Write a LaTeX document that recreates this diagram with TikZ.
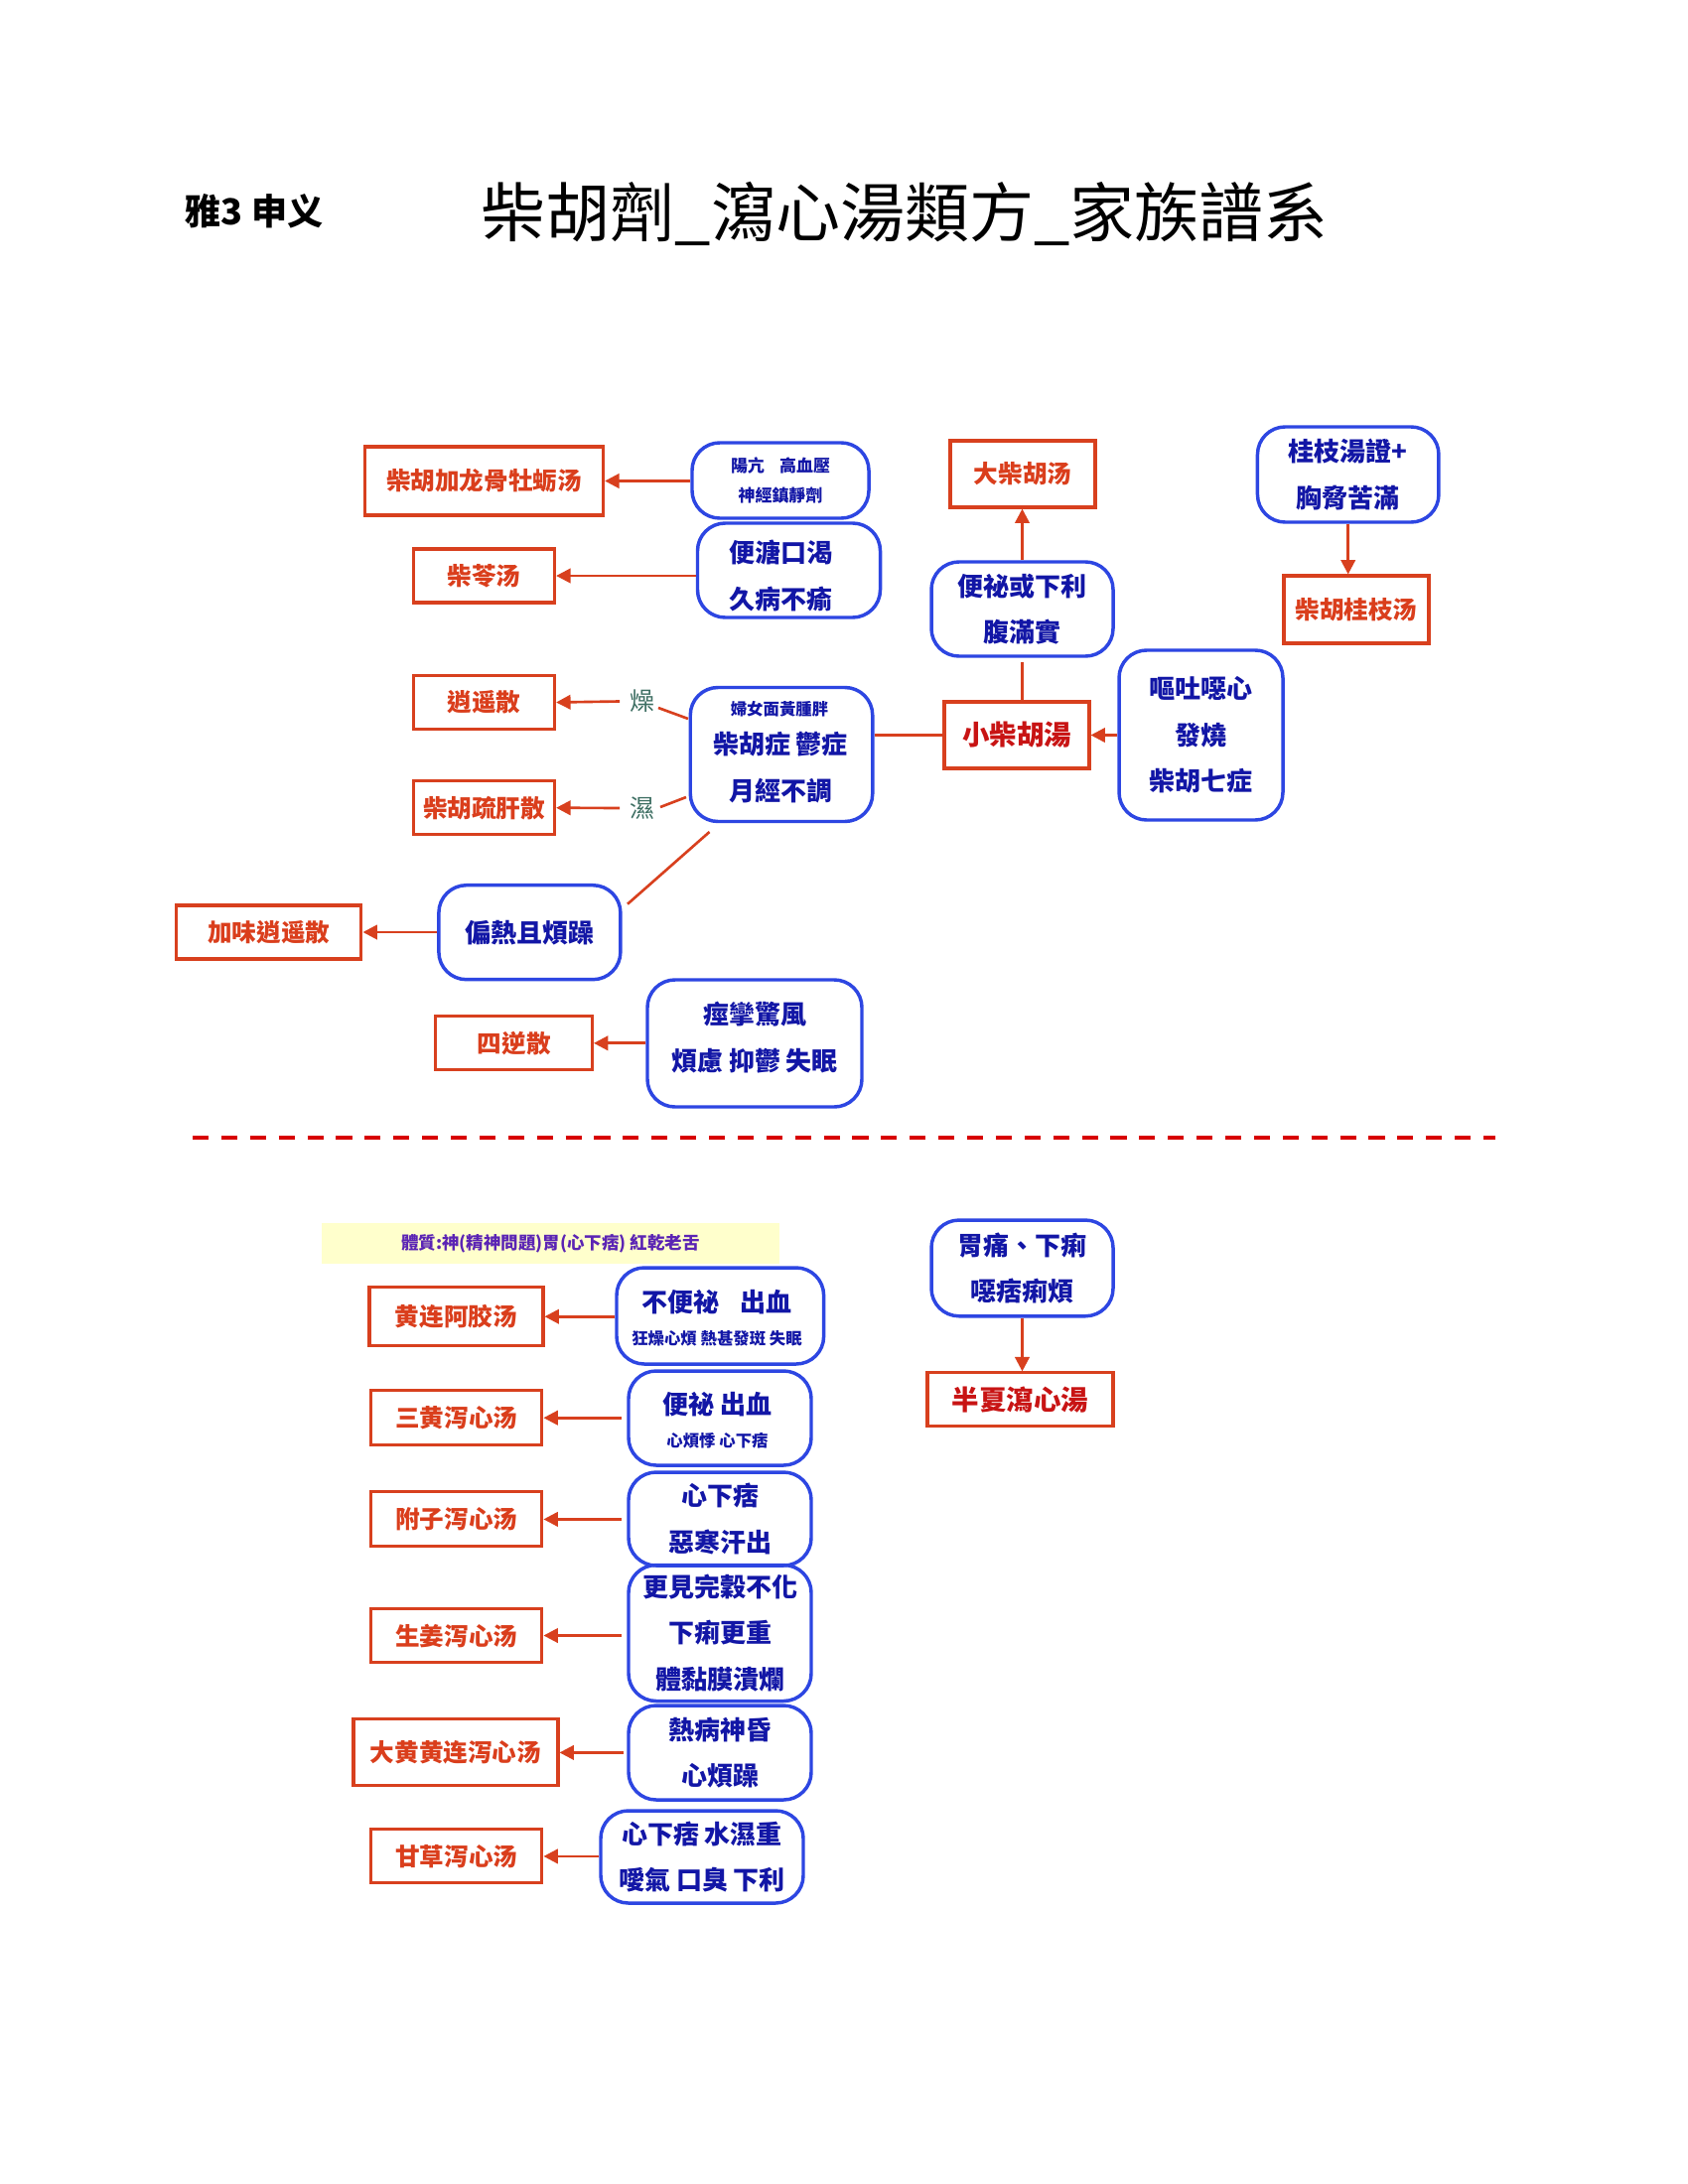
\documentclass[tikz,border=0pt]{standalone}
\usepackage{fontspec}
\setmainfont{Noto Sans CJK TC}
\usetikzlibrary{arrows.meta}
\definecolor{rline}{HTML}{D8401E}
\definecolor{rtext}{HTML}{DA3E1C}
\definecolor{rdark}{HTML}{C81414}
\definecolor{bline}{HTML}{2D46E2}
\definecolor{btext}{HTML}{1216A6}
\definecolor{tealtext}{HTML}{3E6F63}
\definecolor{dashred}{HTML}{D80000}
\definecolor{ybg}{HTML}{FFFFCC}
\definecolor{ptext}{HTML}{5B24B4}
\begin{document}
\begin{tikzpicture}[x=0.36pt,y=-0.36pt,
  redbox/.style 2 args={draw=rline, line width=1.1pt, text=rtext, inner sep=0pt,
     font=\bfseries\fontsize{8.86}{10}\selectfont, minimum width=#1*0.36pt, minimum height=#2*0.36pt},
  bluebox/.style 2 args={draw=bline, line width=1.25pt, rounded corners=10pt, text=btext, inner sep=0pt, align=center,
     font=\bfseries\fontsize{9.36}{16.8}\selectfont, minimum width=#1*0.36pt, minimum height=#2*0.36pt},
  smalltext/.style={text=btext, inner sep=0pt, font=\bfseries\fontsize{5.9}{10.5}\selectfont},
  bigtext/.style={text=btext, inner sep=0pt, align=center, font=\bfseries\fontsize{9.36}{16.8}\selectfont},
  arr/.style={draw=rline, line width=0.95pt, -{Triangle[length=5.2pt,width=5.2pt]}},
  plainline/.style={draw=rline, line width=0.95pt},
  tag/.style={text=tealtext, font=\fontsize{9}{10}\selectfont},
  ]
\fill[white] (0,0) rectangle (1700,2200);
\useasboundingbox (0,0) rectangle (1700,2200);

% titles
\node[font=\bfseries\fontsize{13}{15}\selectfont] (author) at (256,213) {雅3 申义};
\node[font=\fontsize{23.4}{26}\selectfont] (title) at (911,215) {柴胡劑\_瀉心湯類方\_家族譜系};

% ---------- upper part: red boxes ----------
\node[redbox={240}{69}] (r1) at (487.6,484.5) {柴胡加龙骨牡蛎汤};
\node[redbox={142}{54}] (r2) at (487.6,580) {柴苓汤};
\node[redbox={142}{54}] (r3) at (487.6,707.5) {逍遥散};
\node[redbox={142}{54}] (r4) at (487.6,813.7) {柴胡疏肝散};
\node[redbox={186.5}{54}] (r5) at (270.7,939) {加味逍遥散};
\node[redbox={157.5}{54}] (r6) at (517.7,1050.8) {四逆散};
\node[redbox={146}{67}] (r7) at (1030,477.5) {大柴胡汤};
\node[redbox={146}{68}] (r8) at (1366,614) {柴胡桂枝汤};
\node[redbox={146}{67}, text=rdark, font=\bfseries\fontsize{9.9}{11}\selectfont] (r9) at (1024,740.5) {小柴胡湯};

% ---------- upper part: blue boxes ----------
\node[bluebox={178}{76}, font=\bfseries\fontsize{6.1}{10.5}\selectfont] (b1) at (786,484) {陽亢\hspace{0.9em}高血壓\\神經鎮靜劑};
\node[bluebox={184}{95}] (b2) at (794.5,574.5) {};
\node[bigtext] (b2t) at (786,580) {便溏口渴\\久病不瘉};
\node[bluebox={183.5}{135}] (b3) at (787,760) {};
\node[smalltext] (b3a) at (785,714) {婦女面黃腫胖};
\node[bigtext] (b3b) at (786,750) {柴胡症 鬱症};
\node[bigtext] (b3c) at (786,797) {月經不調};
\node[bluebox={183}{95}] (b4) at (533.4,939.2) {偏熱且煩躁};
\node[bluebox={216}{128}] (b5) at (760,1051) {};
\node[bigtext] (b5t) at (760,1045) {痙攣驚風\\煩慮 抑鬱 失眠};
\node[bluebox={183}{95}] (b6) at (1029.5,613.5) {便祕或下利\\腹滿實};
\node[bluebox={182.5}{96}] (b7) at (1357.7,478) {桂枝湯證+\\胸脅苦滿};
\node[bluebox={165}{171}] (b8) at (1209.5,740.5) {嘔吐噁心\\發燒\\柴胡七症};

\node[tag] (dry) at (646.5,706.5) {燥};
\node[tag] (wet) at (646.5,814) {濕};
\coordinate (dryA) at (663,713);
\coordinate (dryB) at (693,724);
\coordinate (wetA) at (665,813);
\coordinate (wetB) at (691,803);
\coordinate (dgA) at (714.5,838);
\coordinate (dgB) at (632,910.7);

% upper connectors
\draw[arr] (b1.west |- r1.east) -- (r1.east);
\draw[arr] (b2.west |- r2.east) -- (r2.east);
\draw[arr] (dry.west) -- (r3.east);
\draw[arr] (wet.west) -- (r4.east);
\draw[plainline] (dryA) -- (dryB);
\draw[plainline] (wetA) -- (wetB);
\draw[plainline] (dgA) -- (dgB);
\draw[arr] (b4.west |- r5.east) -- (r5.east);
\draw[arr] (b5.west |- r6.east) -- (r6.east);
\draw[arr] (b6.north) -- (b6.north |- r7.south);
\draw[arr] (b7.south) -- (b7.south |- r8.north);
\draw[arr] (b8.west |- r9.east) -- (r9.east);
\draw[plainline] ([yshift=-1.5pt]b6.south) -- (b6.south |- r9.north);
\draw[plainline] (b3.east |- r9.west) -- (r9.west);

% separator
\coordinate (sepL) at (194,1146);
\coordinate (sepR) at (1506,1146);
\draw[dashred, line width=1.5pt, dash pattern=on 5.8pt off 4.6pt] (sepL) -- (sepR);

% ---------- lower part ----------
\node[fill=ybg, inner sep=0pt, minimum width=461*0.36pt, minimum height=41*0.36pt,
      text=ptext, font=\bfseries\fontsize{6.3}{8}\selectfont] (constitution) at (554.5,1252.5)
      {體質:神(精神問題)胃(心下痞) 紅乾老舌};

\node[redbox={175}{59}] (r10) at (459.5,1326.2) {黄连阿胶汤};
\node[redbox={172}{55}] (r11) at (459.9,1428.2) {三黄泻心汤};
\node[redbox={172}{55}] (r12) at (459.9,1530.4) {附子泻心汤};
\node[redbox={172}{54}] (r13) at (459.9,1647.5) {生姜泻心汤};
\node[redbox={206}{67}] (r14) at (459,1765.4) {大黄黄连泻心汤};
\node[redbox={172}{54}] (r15) at (459.9,1869.9) {甘草泻心汤};
\node[redbox={187}{54}, text=rdark, font=\bfseries\fontsize{9.9}{11}\selectfont] (r16) at (1027.5,1409.9) {半夏瀉心湯};

\node[bluebox={208.6}{97}] (b10) at (725.3,1325.5) {};
\node[bigtext] (b10a) at (722,1311.7) {不便祕\hspace{0.8em}出血};
\node[smalltext] (b10b) at (722,1348) {狂燥心煩 熱甚發斑 失眠};
\node[bluebox={184}{95}] (b11) at (725,1428.5) {};
\node[bigtext] (b11a) at (722.6,1415) {便祕 出血};
\node[smalltext] (b11b) at (722.5,1451.7) {心煩悸 心下痞};
\node[bluebox={184}{94}] (b12) at (725,1530) {心下痞\\惡寒汗出};
\node[bluebox={184}{137}] (b13) at (725,1645) {更見完穀不化\\下痢更重\\體黏膜潰爛};
\node[bluebox={184}{95}] (b14) at (725,1765.5) {熱病神昏\\心煩躁};
\node[bluebox={204}{93}] (b15) at (707,1870.5) {心下痞 水濕重\\噯氣 口臭 下利};
\node[bluebox={183}{96.7}] (b9) at (1029.5,1277.4) {胃痛、下痢\\噁痞痢煩};

% lower connectors
\draw[arr] (b10.west |- r10.east) -- (r10.east);
\draw[arr, shorten <=2pt] (b11.west |- r11.east) -- (r11.east);
\draw[arr, shorten <=2pt] (b12.west |- r12.east) -- (r12.east);
\draw[arr, shorten <=2pt] (b13.west |- r13.east) -- (r13.east);
\draw[arr, shorten <=1pt] (b14.west |- r14.east) -- (r14.east);
\draw[arr] (b15.west |- r15.east) -- (r15.east);
\draw[arr] (b9.south) -- (b9.south |- r16.north);
\end{tikzpicture}
\end{document}
